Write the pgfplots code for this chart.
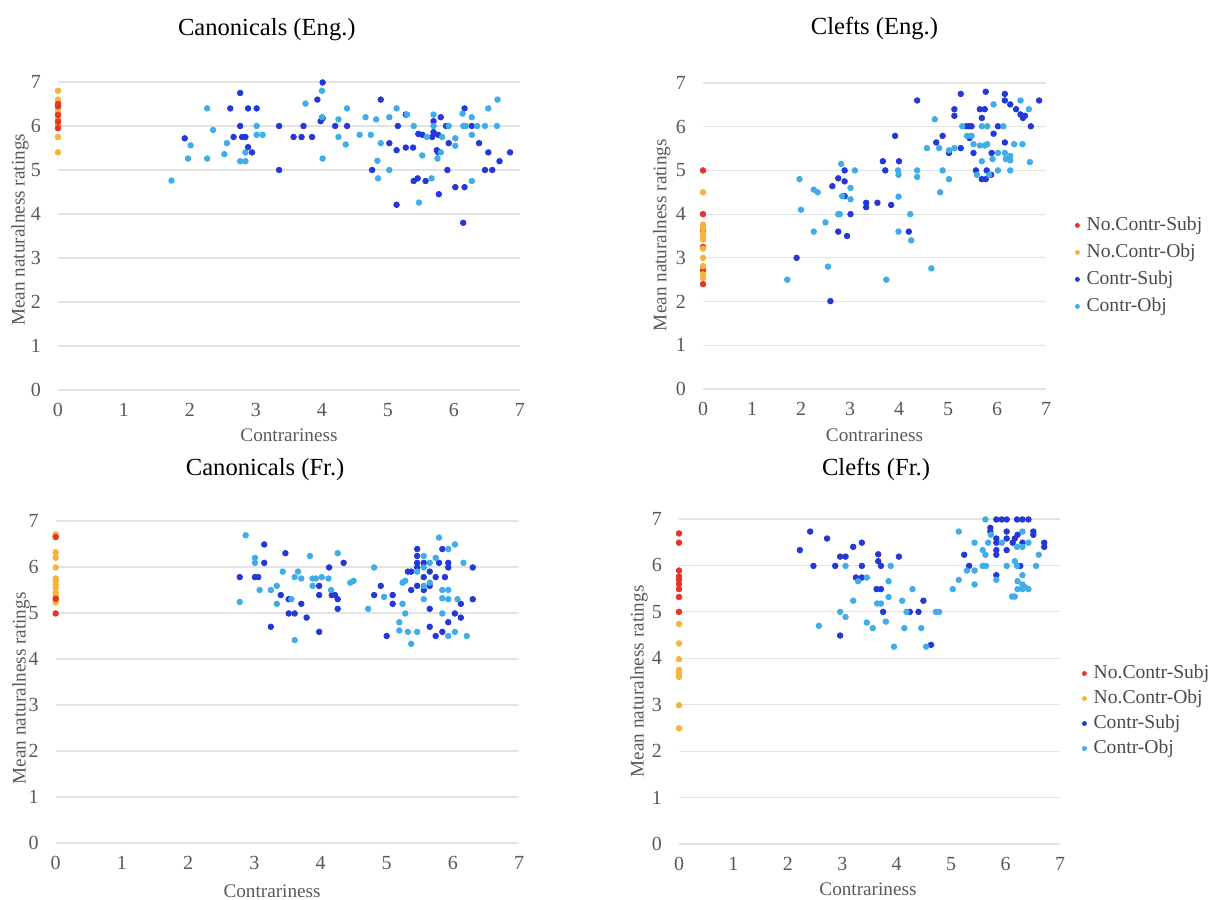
\documentclass[border=0pt]{standalone}
\usepackage{fontspec}
\setmainfont{Liberation Serif}
\usepackage{pgfplots}
\pgfplotsset{compat=1.18}
\definecolor{cred}{HTML}{E8332B}
\definecolor{corange}{HTML}{F6B33C}
\definecolor{cdark}{HTML}{2438D8}
\definecolor{clight}{HTML}{40ADE8}
\definecolor{labgray}{HTML}{595959}
\definecolor{leggray}{HTML}{4A4A4A}
\definecolor{gridgray}{HTML}{E3E3E3}
\pgfplotsset{
  panel/.style={
    scale only axis, anchor=south west,
    xmin=0, xmax=7, ymin=0, ymax=7,
    xtick={0,...,7}, ytick={0,...,7},
    axis line style={draw=none},
    major tick length=0pt,
    ymajorgrids, grid style={gridgray, line width=0.6pt},
    clip=false,
    tick label style={font=\fontsize{10}{12}\selectfont, text=labgray},
    /pgf/number format/assume math mode=true,
    xticklabel style={yshift=-3pt},
    yticklabel style={xshift=-5pt},
    label style={font=\fontsize{9.6}{12}\selectfont, text=labgray},
    every axis title/.style={font=\fontsize{12.3}{14}\selectfont, anchor=base},
    xlabel={Contrariness}, ylabel={Mean naturalness ratings},
    legend image code/.code={\draw[#1] plot coordinates {(0.1cm,0cm)}; \path (0.22cm,0cm);},
    legend image post style={mark size=1pt},
  },
  sr/.style={only marks, mark=*, mark size=1.4pt, color=cred},
  so/.style={only marks, mark=*, mark size=1.4pt, color=corange},
  sd/.style={only marks, mark=*, mark size=1.4pt, color=cdark},
  sl/.style={only marks, mark=*, mark size=1.4pt, color=clight},
  legbox/.style={draw=none, fill=none, anchor=north west,
    font=\fontsize{9.8}{12}\selectfont, text=leggray, legend cell align=left,
    nodes={inner sep=1pt, text height=7pt, text depth=2pt}},
}
\begin{document}
\begin{tikzpicture}
\useasboundingbox (0,0) rectangle (604pt,449.5pt);

% ---- Canonicals (Eng.)
\begin{axis}[panel, at={(29pt,254.5pt)}, width=231pt, height=154pt,
  title={Canonicals (Eng.)}, title style={at={(axis description cs:0.452,1)}, yshift=23.5pt},
  xlabel style={at={(axis description cs:0.5,0)}, anchor=base, yshift=-26pt},
  ylabel style={at={(axis description cs:-0.082,0.52)}, anchor=center}]
\addplot[so] coordinates {(0,6.8) (0,6.6) (0,6.52) (0,6.4) (0,6.3) (0,6.15) (0,6.05) (0,6.0) (0,5.75) (0,5.4)};
\addplot[sr] coordinates {(0,6.5) (0,6.45) (0,6.25) (0,6.1) (0,5.95)};
\addplot[sd] coordinates {(1.92,5.72) (2.61,6.40) (2.66,5.75) (2.76,6.75) (2.76,6.0) (2.79,5.75) (2.84,5.75) (2.88,6.40) (2.88,5.52) (2.94,5.40) (3.01,6.40) (3.35,6.0) (3.35,5.0) (3.57,5.75) (3.69,5.75) (3.72,6.0) (3.85,5.75) (3.93,6.60) (3.98,6.11) (4.01,6.99) (4.01,6.18) (4.20,6.0) (4.38,6.0) (4.76,5.0) (4.89,6.60) (5.02,5.61) (5.13,5.45) (5.15,6.0) (5.13,4.21) (5.27,6.26) (5.27,5.51) (5.38,5.51) (5.39,4.75) (5.45,4.81) (5.46,5.82) (5.52,5.80) (5.57,4.75) (5.67,5.75) (5.69,6.11) (5.69,5.86) (5.76,5.80) (5.74,5.45) (5.76,5.40) (5.77,4.45) (5.80,6.20) (5.88,6.0) (5.90,5.0) (5.92,5.61) (6.02,4.61) (6.16,6.40) (6.16,4.61) (6.14,3.80) (6.27,6.0) (6.38,5.61) (6.47,5.0) (6.52,5.40) (6.58,5.0) (6.69,5.20) (6.85,5.40)};
\addplot[sl] coordinates {(1.72,4.76) (1.97,5.26) (2.01,5.56) (2.26,6.40) (2.26,5.26) (2.35,5.91) (2.52,5.36) (2.56,5.61) (2.76,5.20) (2.84,5.20) (2.84,5.40) (3.01,6.0) (3.01,5.80) (3.10,5.80) (3.75,6.51) (4.0,6.80) (4.0,6.20) (4.01,5.26) (4.25,6.15) (4.25,5.75) (4.36,5.58) (4.38,6.40) (4.57,5.80) (4.66,6.20) (4.74,5.80) (4.82,6.15) (4.84,5.21) (4.85,4.81) (4.89,5.61) (5.02,6.20) (5.02,5.0) (5.13,6.40) (5.29,6.26) (5.39,6.0) (5.47,4.26) (5.52,5.33) (5.59,5.75) (5.66,4.81) (5.69,6.26) (5.69,6.0) (5.75,5.26) (5.80,5.40) (5.82,5.75) (5.92,6.0) (6.02,5.72) (6.02,5.55) (6.13,6.28) (6.14,6.0) (6.18,6.0) (6.27,6.20) (6.27,5.80) (6.27,4.75) (6.35,6.0) (6.47,6.0) (6.52,6.40) (6.65,6.0) (6.66,6.60)};
\end{axis}

% ---- Clefts (Eng.)
\begin{axis}[panel, at={(351.5pt,255pt)}, width=171.5pt, height=153pt,
  title={Clefts (Eng.)}, title style={at={(axis description cs:0.5,1)}, yshift=24pt},
  xlabel style={at={(axis description cs:0.5,0)}, anchor=base, yshift=-26.5pt},
  ylabel style={at={(axis description cs:-0.12,0.503)}, anchor=center},
  legend style={legbox, at={(axis description cs:1.067,0.585)}, row sep=2.5pt}]
\addplot[sr] coordinates {(0,5.0) (0,4.0) (0,3.61) (0,3.25) (0,2.72) (0,2.40)};
\addplot[so] coordinates {(0,4.5) (0,3.76) (0,3.69) (0,3.57) (0,3.5) (0,3.42) (0,3.21) (0,3.0) (0,2.81) (0,2.62) (0,2.54)};
\addplot[sd] coordinates {(1.91,3.0) (2.60,2.01) (2.64,4.64) (2.76,4.82) (2.76,3.60) (2.89,5.0) (2.89,4.75) (2.89,4.41) (2.94,3.50) (3.01,4.0) (3.33,4.26) (3.33,4.16) (3.56,4.26) (3.67,5.21) (3.72,5.0) (3.84,4.21) (3.92,5.79) (4.0,5.21) (4.20,3.60) (4.37,6.60) (4.76,5.64) (4.89,5.79) (5.02,5.40) (5.13,6.40) (5.13,6.25) (5.26,6.75) (5.26,5.51) (5.37,6.01) (5.43,6.01) (5.48,6.01) (5.44,5.74) (5.52,5.40) (5.57,5.0) (5.65,6.40) (5.75,6.40) (5.69,6.20) (5.77,6.80) (5.69,4.80) (5.77,4.80) (5.79,5.0) (5.89,5.40) (5.88,4.90) (5.93,5.84) (6.02,6.01) (6.16,6.75) (6.16,6.60) (6.16,5.64) (6.27,6.51) (6.39,6.40) (6.48,6.28) (6.53,6.20) (6.57,6.25) (6.69,6.01) (6.86,6.60)};
\addplot[sl] coordinates {(1.72,2.50) (1.97,4.80) (2.0,4.10) (2.26,4.56) (2.34,4.50) (2.26,3.60) (2.50,3.81) (2.55,2.80) (2.82,5.15) (2.76,4.0) (2.79,4.0) (2.84,4.41) (3.01,4.60) (3.01,4.34) (3.10,5.0) (3.74,2.50) (3.98,5.0) (3.99,4.90) (3.99,4.40) (3.99,3.60) (4.23,4.0) (4.25,3.40) (4.37,5.0) (4.37,4.85) (4.66,2.76) (4.57,5.51) (4.73,6.17) (4.82,5.51) (4.84,4.50) (4.89,5.0) (5.02,5.46) (5.02,4.80) (5.13,5.51) (5.29,6.01) (5.39,5.79) (5.48,5.79) (5.52,5.60) (5.59,4.90) (5.65,5.57) (5.69,6.01) (5.69,5.21) (5.75,5.57) (5.80,5.60) (5.80,6.01) (5.84,4.90) (5.91,5.26) (5.93,6.51) (6.02,5.40) (6.02,5.0) (6.13,6.01) (6.16,5.40) (6.18,5.26) (6.27,5.33) (6.27,5.23) (6.27,5.0) (6.35,5.60) (6.48,6.60) (6.52,5.60) (6.65,6.40) (6.67,5.19)};
\legend{No.Contr-Subj, No.Contr-Obj, Contr-Subj, Contr-Obj}
\end{axis}

% ---- Canonicals (Fr.)
\begin{axis}[panel, at={(27.85pt,28pt)}, width=231.7pt, height=161pt,
  title={Canonicals (Fr.)}, title style={at={(axis description cs:0.452,1)}, yshift=23pt},
  xlabel style={at={(axis description cs:0.467,0)}, anchor=base, yshift=-27pt},
  ylabel style={at={(axis description cs:-0.075,0.48)}, anchor=center}]
\addplot[so] coordinates {(0,6.71) (0,6.67) (0,6.32) (0,6.20) (0,5.99) (0,5.75) (0,5.70) (0,5.62) (0,5.54) (0,5.44) (0,5.36) (0,5.28) (0,5.23)};
\addplot[sr] coordinates {(0,6.65) (0,5.31) (0,4.99)};
\addplot[sd] coordinates {(2.78,5.78) (3.01,5.78) (3.06,5.78) (3.15,6.49) (3.15,6.09) (3.25,4.70) (3.40,5.39) (3.47,6.30) (3.52,5.30) (3.52,4.99) (3.61,4.99) (3.71,5.20) (3.79,4.90) (3.98,5.59) (3.98,5.39) (3.98,4.59) (4.13,5.99) (4.17,5.39) (4.22,5.39) (4.26,5.30) (4.26,5.09) (4.35,6.09) (4.81,5.39) (4.91,5.59) (5.00,4.50) (5.09,5.39) (5.09,5.20) (5.32,5.90) (5.37,5.90) (5.37,5.50) (5.46,6.39) (5.46,6.24) (5.46,6.09) (5.46,5.99) (5.46,5.59) (5.56,6.09) (5.56,5.78) (5.56,5.50) (5.65,5.90) (5.65,5.59) (5.65,5.09) (5.65,4.70) (5.74,5.78) (5.74,4.50) (5.79,6.09) (5.84,6.39) (5.84,4.59) (5.88,5.78) (5.93,6.09) (5.93,5.99) (5.93,4.80) (6.03,4.99) (6.12,5.20) (6.12,4.90) (6.30,5.99) (6.30,5.30)};
\addplot[sl] coordinates {(2.87,6.69) (2.78,5.24) (3.01,6.20) (3.01,6.09) (3.08,5.50) (3.25,5.50) (3.34,5.59) (3.34,5.20) (3.43,5.90) (3.56,5.30) (3.61,5.78) (3.61,4.41) (3.66,5.90) (3.71,5.75) (3.84,6.24) (3.88,5.75) (3.93,5.75) (3.88,5.59) (4.02,5.78) (4.12,5.75) (4.16,5.50) (4.26,6.30) (4.45,5.66) (4.50,5.70) (4.72,5.09) (4.81,5.99) (4.96,5.35) (5.19,4.80) (5.19,4.62) (5.24,5.20) (5.24,5.66) (5.28,5.70) (5.28,4.99) (5.32,4.59) (5.37,4.33) (5.46,5.90) (5.46,4.59) (5.56,6.24) (5.56,5.99) (5.56,5.59) (5.56,5.30) (5.65,6.09) (5.65,5.66) (5.74,6.20) (5.79,6.64) (5.84,5.50) (5.84,5.32) (5.84,4.99) (5.93,6.39) (5.93,5.50) (5.93,5.30) (5.93,4.50) (6.03,6.49) (6.03,4.59) (6.07,5.30) (6.16,6.09) (6.21,4.50)};
\end{axis}

% ---- Clefts (Fr.)
\begin{axis}[panel, at={(339.5pt,27.5pt)}, width=190.5pt, height=162.5pt,
  title={Clefts (Fr.)}, title style={at={(axis description cs:0.517,1)}, yshift=22pt},
  xlabel style={at={(axis description cs:0.496,0)}, anchor=base, yshift=-25.5pt},
  ylabel style={at={(axis description cs:-0.105,0.5)}, anchor=center},
  legend style={legbox, at={(axis description cs:1.042,0.572)}, row sep=1.5pt}]
\addplot[sr] coordinates {(0,6.69) (0,6.49) (0,5.89) (0,5.76) (0,5.70) (0,5.60) (0,5.49) (0,5.32) (0,5.0)};
\addplot[so] coordinates {(0,4.74) (0,4.32) (0,3.98) (0,3.75) (0,3.68) (0,3.60) (0,2.99) (0,2.49)};
\addplot[sd] coordinates {(2.22,6.33) (2.41,6.73) (2.47,5.99) (2.72,6.58) (2.87,5.99) (2.96,6.19) (2.96,4.49) (3.06,6.19) (3.20,6.40) (3.25,5.74) (3.36,6.49) (3.36,5.99) (3.36,5.74) (3.63,5.49) (3.66,6.24) (3.66,6.09) (3.71,5.99) (3.71,5.49) (3.75,5.0) (4.04,6.19) (4.24,5.0) (4.40,5.0) (4.49,5.24) (4.63,4.29) (5.24,6.23) (5.33,5.99) (5.72,6.81) (5.72,6.73) (5.83,6.99) (5.93,6.99) (6.02,6.99) (5.83,6.58) (5.83,6.49) (5.83,6.33) (5.83,6.23) (5.83,5.79) (6.02,6.73) (6.02,6.58) (6.02,6.33) (6.13,6.49) (6.17,6.58) (6.22,6.66) (6.21,6.99) (6.31,6.99) (6.42,6.99) (6.31,6.49) (6.27,5.99) (6.51,6.73) (6.51,6.66) (6.71,6.49) (6.71,6.40)};
\addplot[sl] coordinates {(2.57,4.70) (2.96,5.0) (3.06,5.99) (3.06,4.89) (3.20,5.24) (3.29,5.66) (3.45,5.74) (3.45,4.77) (3.56,4.65) (3.64,5.18) (3.71,5.18) (3.80,4.79) (3.85,5.66) (3.85,5.32) (3.89,5.99) (3.95,4.25) (4.10,5.24) (4.14,4.65) (4.18,5.0) (4.29,5.49) (4.45,4.65) (4.54,4.25) (4.72,5.0) (4.78,5.0) (5.03,5.49) (5.14,6.73) (5.14,5.69) (5.29,5.89) (5.43,5.89) (5.43,6.49) (5.43,5.59) (5.58,6.33) (5.58,5.99) (5.63,6.23) (5.63,6.99) (5.64,5.99) (5.68,6.49) (5.73,6.66) (5.83,5.69) (5.93,6.49) (6.02,5.99) (6.12,5.33) (6.17,5.33) (6.17,6.09) (6.21,6.40) (6.21,5.99) (6.22,5.66) (6.22,5.49) (6.31,6.73) (6.31,6.40) (6.31,5.79) (6.31,5.59) (6.31,5.49) (6.36,5.53) (6.42,5.49) (6.42,6.49) (6.56,5.99) (6.61,6.23)};
\legend{No.Contr-Subj, No.Contr-Obj, Contr-Subj, Contr-Obj}
\end{axis}
\end{tikzpicture}
\end{document}
